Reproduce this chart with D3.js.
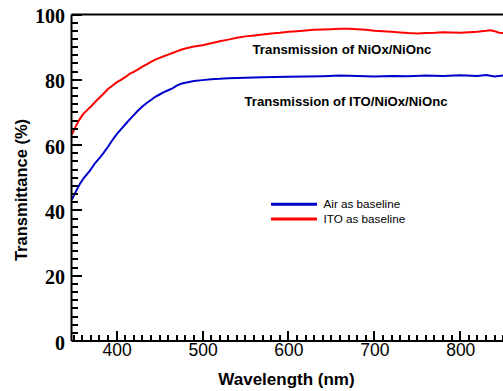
<!DOCTYPE html>
<html>
<head>
<meta charset="utf-8">
<script src="https://cdn.jsdelivr.net/npm/d3@7"></script>
<style>
  html, body { margin: 0; padding: 0; background: #fff; }
  svg { display: block; }
</style>
</head>
<body>
<svg id="chart" width="503" height="391"></svg>
<script>
// ---- data ----
const wavelengthsRed = [348,352,356,361,366,370,375,380,385,390,395,400,405,410,415,420,425,430,435,440,445,450,455,460,465,470,475,480,490,500,510,520,530,540,550,560,570,580,590,600,610,620,630,640,650,660,670,680,690,700,710,720,730,740,750,760,770,780,790,800,810,820,830,835,840,845,850];
const itoBaseline = [63.3,65.5,67.5,69.5,70.8,71.8,73.2,74.5,75.8,77.2,78.2,79.2,80.0,80.8,81.8,82.4,83.2,84.0,84.7,85.5,86.2,86.7,87.2,87.7,88.2,88.7,89.2,89.6,90.2,90.6,91.2,91.8,92.3,92.9,93.3,93.6,93.9,94.2,94.4,94.7,94.9,95.1,95.3,95.4,95.5,95.6,95.6,95.5,95.3,95.0,94.9,94.7,94.5,94.3,94.2,94.3,94.4,94.6,94.5,94.4,94.6,94.7,95.0,95.2,94.9,94.4,94.3];

const wavelengthsBlue = [348,352,357,362,369,375,380,384,390,395,400,405,410,415,420,425,430,435,440,445,450,455,460,465,470,475,480,490,500,510,520,530,550,570,600,620,640,660,680,700,720,740,760,780,800,820,830,840,850];
const airBaseline = [43.3,45.5,48.0,50.0,52.2,54.5,56.0,57.3,59.5,61.5,63.3,64.8,66.3,67.8,69.2,70.6,71.8,72.9,73.8,74.8,75.5,76.2,76.8,77.4,78.2,78.8,79.1,79.6,79.9,80.2,80.3,80.5,80.6,80.8,80.9,81.0,81.1,81.3,81.2,81.0,81.2,81.1,81.3,81.2,81.4,81.2,81.5,81.0,81.3];

const xTicks = [400, 500, 600, 700, 800];
const yTicks = [0, 20, 40, 60, 80, 100];
const legendLabels = ["Air as baseline", "ITO as baseline"];
const annotations = ["Transmission of NiOx/NiOnc", "Transmission of ITO/NiOx/NiOnc"];
const xTitle = "Wavelength (nm)";
const yTitle = "Transmittance (%)";

// ---- layout ----
const svg = d3.select("#chart");
const pL = 71.5, pR = 503.2, pT = 14.5, pB = 341;
const x = d3.scaleLinear().domain([347.5, 850]).range([pL, pR]);
const y = d3.scaleLinear().domain([0, 100]).range([pB, pT]);
const BLUE = "#0000cc", RED = "#ff0000";

svg.append("defs").append("clipPath").attr("id", "clip")
  .append("rect").attr("x", pL).attr("y", pT - 5).attr("width", pR - pL).attr("height", pB - pT + 5);

// curves
const line = d3.line().x(d => x(d[0])).y(d => y(d[1]));
const g = svg.append("g").attr("clip-path", "url(#clip)");
g.append("path").datum(wavelengthsRed.map((w, i) => [w, itoBaseline[i]]))
  .attr("d", line).attr("fill", "none").attr("stroke", RED).attr("stroke-width", 2);
g.append("path").datum(wavelengthsBlue.map((w, i) => [w, airBaseline[i]]))
  .attr("d", line).attr("fill", "none").attr("stroke", BLUE).attr("stroke-width", 2);

// tick marks (pointing inward), positioned by the scales, as filled rects
const xMinor = d3.range(350, 851, 10).filter(v => v % 100 !== 0);
const yMinor = d3.range(0, 100.1, 2.5).filter(v => v % 20 !== 0);
const tickG = svg.append("g").attr("fill", "#000");
const xTickData = xMinor.map(v => ({v, len: 6})).concat(xTicks.map(v => ({v, len: 10})));
const yTickData = yMinor.map(v => ({v, len: 6})).concat(yTicks.map(v => ({v, len: 10})));
tickG.selectAll("rect.xt").data(xTickData).join("rect").attr("class", "xt")
  .attr("x", d => Math.round(x(d.v)) - 1).attr("width", 2)
  .attr("y", d => Math.round(pB) - d.len).attr("height", d => d.len);
tickG.selectAll("rect.yt").data(yTickData).join("rect").attr("class", "yt")
  .attr("x", Math.round(pL)).attr("width", d => d.len)
  .attr("y", d => Math.round(y(d.v)) - 1).attr("height", 2);

// tick labels via d3 axes (lines hidden, labels kept)
const xAx = svg.append("g").attr("transform", `translate(0,${pB})`)
  .call(d3.axisBottom(x).tickValues(xTicks).tickSize(0).tickPadding(0).tickFormat(d3.format("d")));
xAx.select(".domain").remove();
xAx.selectAll("line").remove();
xAx.selectAll("text").attr("y", 15).attr("dy", 0)
  .attr("font-family", "'Liberation Sans', Arial, sans-serif").attr("font-size", 17.5).attr("fill", "#000");

const yAx = svg.append("g").attr("transform", `translate(${pL},0)`)
  .call(d3.axisLeft(y).tickValues(yTicks).tickSize(0).tickFormat(d3.format("d")));
yAx.select(".domain").remove();
yAx.selectAll("line").remove();
yAx.selectAll("text").attr("x", -6.5).attr("dy", "0.4em")
  .attr("font-family", "'Liberation Serif', 'Times New Roman', serif").attr("font-weight", "bold")
  .attr("font-size", 20).attr("fill", "#000");

// frame lines: left, bottom, top
svg.append("line").attr("x1", pL).attr("x2", pL).attr("y1", pT).attr("y2", pB)
  .attr("stroke", "#000").attr("stroke-width", 2);
svg.append("line").attr("x1", pL).attr("x2", pR).attr("y1", pB).attr("y2", pB)
  .attr("stroke", "#000").attr("stroke-width", 2);
svg.append("line").attr("x1", pL).attr("x2", pR).attr("y1", pT).attr("y2", pT)
  .attr("stroke", "#000").attr("stroke-width", 2);

// axis titles
svg.append("text").attr("x", 286.5).attr("y", 385).attr("text-anchor", "middle")
  .attr("font-family", "'Liberation Sans', Arial, sans-serif").attr("font-weight", "bold")
  .attr("font-size", 17).attr("fill", "#000").text(xTitle);
svg.append("text").attr("transform", "translate(27,190) rotate(-90)").attr("text-anchor", "middle")
  .attr("font-family", "'Liberation Sans', Arial, sans-serif").attr("font-weight", "bold")
  .attr("font-size", 16.5).attr("fill", "#000").text(yTitle);

// annotations
const annPos = [{x: 252.5, y: 54.3, w: 179}, {x: 244.5, y: 106, w: 203}];
annotations.forEach((t, i) => {
  svg.append("text").attr("x", annPos[i].x).attr("y", annPos[i].y)
    .attr("font-family", "'Liberation Sans', Arial, sans-serif").attr("font-weight", "bold")
    .attr("font-size", 13.5).attr("fill", "#000")
    .attr("textLength", annPos[i].w).attr("lengthAdjust", "spacingAndGlyphs").text(t);
});

// legend
const legColors = [BLUE, RED];
const legY = [204.3, 219];
legendLabels.forEach((t, i) => {
  svg.append("line").attr("x1", 271).attr("x2", 317).attr("y1", legY[i]).attr("y2", legY[i])
    .attr("stroke", legColors[i]).attr("stroke-width", 3);
  svg.append("text").attr("x", 323.5).attr("y", legY[i] + 3.8)
    .attr("font-family", "'Liberation Sans', Arial, sans-serif").attr("font-size", 11.7)
    .attr("fill", "#000").text(t);
});
</script>
</body>
</html>
